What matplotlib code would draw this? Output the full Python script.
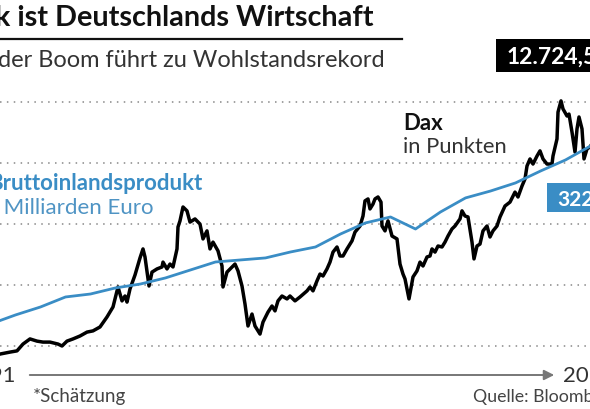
import matplotlib
matplotlib.use("Agg")
import matplotlib.pyplot as plt
from matplotlib.patches import Rectangle

# Dax (Punkte)
dax_year = [1992.68, 1992.88, 1993.28, 1993.56, 1993.80, 1994.08, 1994.36, 1994.60, 1994.88,
            1995.20, 1995.36, 1995.56, 1995.80, 1996.08, 1996.36, 1996.60, 1996.88, 1997.16,
            1997.40, 1997.60, 1997.76, 1997.88, 1997.96, 1998.08, 1998.28, 1998.48, 1998.60,
            1998.68, 1998.84, 1998.96, 1999.16, 1999.36, 1999.40, 1999.56, 1999.68, 1999.80,
            1999.96, 2000.00, 2000.08, 2000.20, 2000.36, 2000.48, 2000.68, 2000.88, 2001.00,
            2001.16, 2001.28, 2001.40, 2001.60, 2001.76, 2001.80, 2001.96, 2002.16, 2002.28,
            2002.40, 2002.56, 2002.68, 2002.80, 2002.96, 2003.08, 2003.28, 2003.40, 2003.60,
            2003.76, 2003.88, 2004.00, 2004.16, 2004.36, 2004.48, 2004.68, 2004.88, 2005.16,
            2005.28, 2005.40, 2005.56, 2005.68, 2005.80, 2005.96, 2006.08, 2006.20, 2006.36,
            2006.48, 2006.60, 2006.76, 2006.96, 2007.08, 2007.28, 2007.40, 2007.48, 2007.60,
            2007.68, 2007.80, 2007.88, 2008.00, 2008.12, 2008.16, 2008.28, 2008.40, 2008.56,
            2008.76, 2008.88, 2009.00, 2009.08, 2009.24, 2009.40, 2009.56, 2009.68, 2009.80,
            2009.96, 2010.08, 2010.16, 2010.28, 2010.40, 2010.56, 2010.68, 2010.80, 2010.96,
            2011.08, 2011.28, 2011.36, 2011.48, 2011.60, 2011.76, 2011.84, 2011.96, 2012.08,
            2012.20, 2012.36, 2012.48, 2012.60, 2012.76, 2012.88, 2013.08, 2013.28, 2013.48,
            2013.60, 2013.76, 2013.88, 2013.96, 2014.08, 2014.20, 2014.36, 2014.48, 2014.60,
            2014.76, 2014.96, 2015.00, 2015.16, 2015.20, 2015.32, 2015.40, 2015.56, 2015.64,
            2015.76, 2015.88, 2015.96, 2016.04, 2016.16, 2016.24, 2016.36, 2016.48, 2016.68]
dax_val = [2090, 2170, 2250, 2300, 2580, 2790, 2700, 2660, 2660,
           2580, 2500, 2700, 2790, 2910, 3070, 3120, 3280, 3690,
           4100, 4920, 4350, 4550, 4300, 4840, 5410, 6110, 6480,
           6150, 4960, 5530, 5660, 5740, 5940, 5660, 5860, 5740,
           6480, 7380, 7630, 8200, 8040, 7580, 7710, 7500, 6890,
           7220, 6480, 6760, 6400, 5780, 4920, 5530, 5740, 5860,
           5580, 4960, 4220, 3320, 3810, 3320, 2990, 3480, 3890,
           4140, 3940, 4350, 4550, 4430, 4550, 4350, 4510, 4760,
           4920, 4760, 5170, 5450, 5370, 5660, 5940, 6350, 6560,
           6190, 6190, 6480, 6810, 7170, 7420, 7830, 8450, 8530,
           8120, 8320, 8530, 8610, 8400, 7420, 7220, 7630, 7010,
           6890, 5860, 5450, 5250, 4430, 5330, 5580, 5940, 5780,
           6150, 6190, 6480, 6350, 6600, 6560, 6760, 7010, 7300,
           7420, 7710, 8040, 7830, 7790, 6760, 6070, 6600, 6680,
           7220, 7420, 6970, 7220, 7420, 7790, 8240, 8400, 8810,
           8610, 9060, 9350, 9880, 10170, 9960, 10290, 10500, 10170,
           9960, 9960, 10290, 10990, 12090, 12550, 12220, 11930, 12010,
           11270, 10450, 11400, 11890, 11400, 10170, 10580, 10660, 10990]

# Bruttoinlandsprodukt (Mrd. Euro), Jahresmitte
bip_year = list(range(1992, 2018))
bip_val = [1647, 1723, 1790, 1874, 1899, 1950, 1983, 2034, 2101, 2168, 2185, 2202, 2252,
           2294, 2403, 2496, 2546, 2445, 2588, 2706, 2764, 2832, 2932, 3025, 3142, 3222]

grid_vals = [2500, 5000, 7500, 10000, 12500]

BLUE = '#3a8dc5'
W, H = 590, 410
plt.rcParams['font.family'] = ['Lato', 'DejaVu Sans']

def fx(px):
    return px / W

def fy(py):
    return 1 - py / H

fig = plt.figure(figsize=(5.9, 4.1), dpi=100)
ax = fig.add_axes([0, 0, 1, 1])
ax.set_xlim(1992.88, 2016.48)
ax.set_ylim(-83, 16727)
for v in grid_vals:
    ax.axhline(v, color='#888888', lw=1.1, ls=(0, (1, 3.5)), zorder=1)
ax.plot(dax_year, dax_val, color='black', lw=2.5, solid_joinstyle='round', zorder=3)
ax.axis('off')

ax2 = ax.twinx()
ax2.set_ylim(933, 4377)
ax2.plot([y + 0.5 for y in bip_year], bip_val, color=BLUE, lw=2.0, zorder=4)
ax2.axis('off')

# Titel
fig.text(fx(-5), fy(26), 'k ist Deutschlands Wirtschaft', fontsize=20.7, fontweight='bold',
         color='#111111', ha='left', va='baseline')
fig.add_artist(plt.Line2D([0, fx(402)], [fy(39.5), fy(39.5)], color='#111111', lw=1.6))
fig.text(fx(-2), fy(67), 'der Boom führt zu Wohlstandsrekord', fontsize=17,
         color='#333333', ha='left', va='baseline')

# Wertkästen
fig.add_artist(Rectangle((fx(496), fy(73)), fx(120), 33 / H, transform=fig.transFigure,
                         facecolor='black', edgecolor='none'))
fig.text(fx(507), fy(64), '12.724,5', fontsize=16.5, fontweight='bold', color='white',
         ha='left', va='baseline')
fig.add_artist(Rectangle((fx(547), fy(213)), fx(80), 29 / H, transform=fig.transFigure,
                         facecolor=BLUE, edgecolor='none'))
fig.text(fx(557), fy(206), '3222*', fontsize=15, fontweight='bold', color='white',
         ha='left', va='baseline')

# Beschriftungen
fig.text(fx(403), fy(130), 'Dax', fontsize=16, fontweight='bold', color='#111111',
         ha='left', va='baseline')
fig.text(fx(403), fy(153), 'in Punkten', fontsize=15.8, color='#333333',
         ha='left', va='baseline')
fig.text(fx(202), fy(190), 'Bruttoinlandsprodukt', fontsize=16, fontweight='bold',
         color=BLUE, ha='right', va='baseline')
fig.text(fx(154), fy(214), 'in Milliarden Euro', fontsize=16, color='#4f94c4',
         ha='right', va='baseline')

# Zeitachse
ax.annotate('', xy=(fx(557), fy(376)), xytext=(fx(27), fy(376)),
            xycoords='figure fraction', textcoords='figure fraction',
            arrowprops=dict(arrowstyle='-|>,head_length=0.6,head_width=0.3',
                            color='#777777', lw=1.4))
fig.text(fx(16), fy(382), '1991', fontsize=16, color='#333333', ha='right', va='baseline')
fig.text(fx(563), fy(382), '2017*', fontsize=16, color='#333333', ha='left', va='baseline')
fig.text(fx(33), fy(402), '*Schätzung', fontsize=13.5, color='#444444', ha='left', va='baseline')
fig.text(fx(473), fy(402), 'Quelle: Bloomberg', fontsize=12.8, color='#444444',
         ha='left', va='baseline')

fig.savefig('out.png', dpi=100)
